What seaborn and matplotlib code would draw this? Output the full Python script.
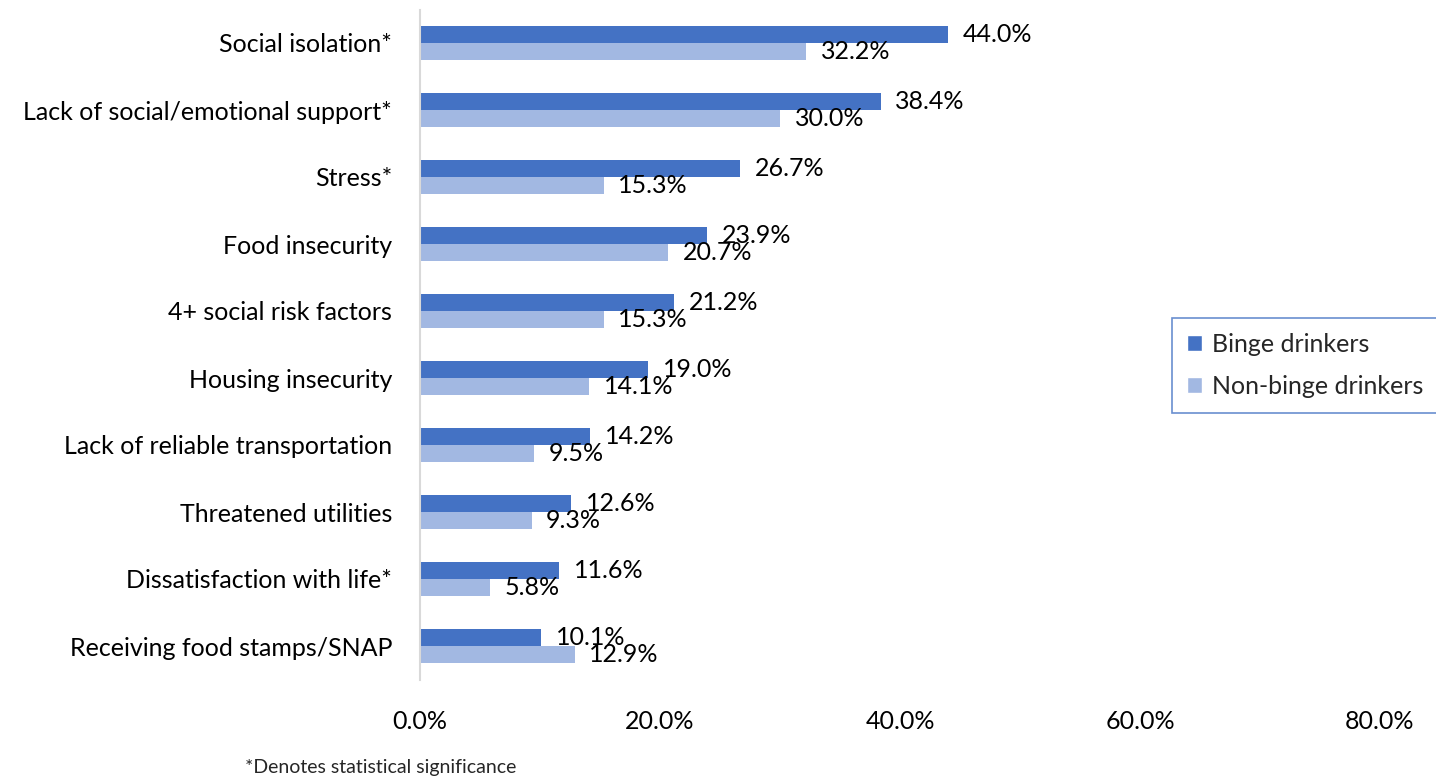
import pandas as pd
import numpy as np
import seaborn as sns
import matplotlib.pyplot as plt
from matplotlib.ticker import FuncFormatter
from matplotlib.patches import Patch

# --- dati ---
categories = [
    'Social isolation*',
    'Lack of social/emotional support*',
    'Stress*',
    'Food insecurity',
    '4+ social risk factors',
    'Housing insecurity',
    'Lack of reliable transportation',
    'Threatened utilities',
    'Dissatisfaction with life*',
    'Receiving food stamps/SNAP',
]
binge = [44.0, 38.4, 26.7, 23.9, 21.2, 19.0, 14.2, 12.6, 11.6, 10.1]
non_binge = [32.2, 30.0, 15.3, 20.7, 15.3, 14.1, 9.5, 9.3, 5.8, 12.9]
groups = ['Binge drinkers', 'Non-binge drinkers']
x_ticks = [0, 20, 40, 60, 80]

df = pd.DataFrame({
    'category': categories * 2,
    'value': binge + non_binge,
    'group': [groups[0]] * len(categories) + [groups[1]] * len(categories),
})

DARK = '#4472C4'
LIGHT = '#A2B8E2'
FS = 18

sns.set_style("white")
plt.rcParams['font.family'] = ['Lato', 'DejaVu Sans']

fig = plt.figure(figsize=(14.36, 7.82), dpi=100)
ax = fig.add_axes([420 / 1436, 1 - 679.5 / 782, 960 / 1436, 670 / 782])

sns.barplot(
    data=df, y='category', x='value', hue='group',
    palette={groups[0]: DARK, groups[1]: LIGHT},
    orient='h', width=0.52, saturation=1, legend=False, ax=ax,
    linewidth=0,
)

for cont in ax.containers:
    ax.bar_label(cont, labels=['%.1f%%' % v for v in cont.datavalues],
                 padding=10.5, fontsize=FS, color='black')

ax.set_xlim(0, 80)
ax.set_ylim(len(categories) - 0.5, -0.5)
ax.set_xticks(x_ticks)
ax.xaxis.set_major_formatter(FuncFormatter(lambda v, p: '%.1f%%' % v))
ax.tick_params(axis='x', length=0, pad=22, labelsize=FS, colors='black')
ax.tick_params(axis='y', length=0, pad=20, labelsize=FS, colors='black')
ax.set_xlabel('')
ax.set_ylabel('')
for s in ['top', 'right', 'bottom']:
    ax.spines[s].set_visible(False)
ax.spines['left'].set_color('#D9D9D9')
ax.spines['left'].set_linewidth(1.5)

handles = [Patch(facecolor=DARK, label=groups[0]), Patch(facecolor=LIGHT, label=groups[1])]
leg = fig.legend(handles=handles, loc='center left',
                 bbox_to_anchor=(1172 / 1436, 1 - 365.5 / 782),
                 fontsize=FS, frameon=True, fancybox=False,
                 handlelength=0.6, handleheight=0.6, handletextpad=0.4,
                 labelspacing=0.75, borderpad=0.6, borderaxespad=0)
leg.get_frame().set_edgecolor(DARK)
leg.get_frame().set_linewidth(1.2)

fig.text(245 / 1436, 1 - 768 / 782, '*Denotes statistical significance',
         fontsize=14, va='center', ha='left')

fig.savefig('out.png', dpi=100)
